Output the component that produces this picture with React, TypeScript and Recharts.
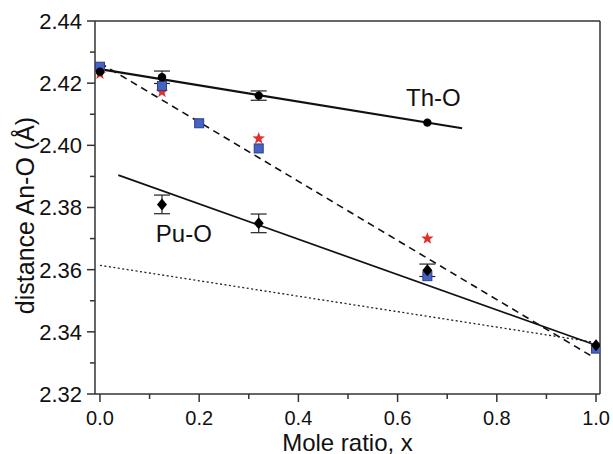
import React from 'react';
import { ComposedChart, Line, Scatter, XAxis, YAxis, ErrorBar, ReferenceLine } from 'recharts';

// ---- data ----
const xTicks = [0, 0.1, 0.2, 0.3, 0.4, 0.5, 0.6, 0.7, 0.8, 0.9, 1.0];
const yTicks = [2.32, 2.33, 2.34, 2.35, 2.36, 2.37, 2.38, 2.39, 2.4, 2.41, 2.42, 2.43, 2.44];

// black, Th-O
const thPoints = [
  { x: 0, y: 2.4237, err: 0 },
  { x: 0.125, y: 2.4219, err: 0.002 },
  { x: 0.32, y: 2.416, err: 0.0015 },
  { x: 0.66, y: 2.4073, err: 0 },
];
// black, Pu-O
const puPoints = [
  { x: 0.125, y: 2.381, err: 0.003 },
  { x: 0.32, y: 2.3749, err: 0.003 },
  { x: 0.66, y: 2.3598, err: 0.002 },
  { x: 1.0, y: 2.3357, err: 0 },
];
// blue squares
const bluePoints = [
  { x: 0, y: 2.4253 },
  { x: 0.125, y: 2.4191 },
  { x: 0.2, y: 2.4071 },
  { x: 0.32, y: 2.399 },
  { x: 0.66, y: 2.3579 },
  { x: 1.0, y: 2.3346 },
];
// red stars
const redPoints = [
  { x: 0, y: 2.423 },
  { x: 0.125, y: 2.4172 },
  { x: 0.32, y: 2.4022 },
  { x: 0.66, y: 2.370 },
  { x: 1.0, y: 2.3355 },
];
// fitted lines
const thLine = [
  { x: 0, y: 2.4245 },
  { x: 0.73, y: 2.4055 },
];
const puLine = [
  { x: 0.037, y: 2.3904 },
  { x: 1.0, y: 2.3357 },
];
const dashedLine = [
  { x: 0, y: 2.4265 },
  { x: 0.994, y: 2.3319 },
];
const dottedLine = [
  { x: 0, y: 2.3614 },
  { x: 0.994, y: 2.3367 },
];
const textLabels = [
  { x: 0.672, y: 2.4126, text: 'Th-O' },
  { x: 0.169, y: 2.3689, text: 'Pu-O' },
];

const FONT = '"Liberation Sans", Arial, sans-serif';
const AXIS = '#333';

const XTick = (props: any) => {
  const { x, y, payload } = props;
  const v = payload.value;
  const major = Math.round(v * 10) % 2 === 0;
  return (
    <g>
      <line x1={x} y1={y} x2={x} y2={y + (major ? 8 : 5)} stroke={AXIS} strokeWidth={1.5} />
      {major && (
        <text x={x} y={y + 30.5} textAnchor="middle" fontSize={20} fontFamily={FONT} fill="#111">
          {v.toFixed(1)}
        </text>
      )}
    </g>
  );
};

const YTick = (props: any) => {
  const { x, y, payload } = props;
  const v = payload.value;
  const major = Math.round(v * 100) % 2 === 0;
  return (
    <g>
      <line x1={x} y1={y} x2={x - (major ? 8 : 5)} y2={y} stroke={AXIS} strokeWidth={1.5} />
      {major && (
        <text x={x - 13} y={y} dy="0.36em" textAnchor="end" fontSize={22} fontFamily={FONT} fill="#111">
          {v.toFixed(2)}
        </text>
      )}
    </g>
  );
};

const YLabel = (props: any) => {
  const vb = props.viewBox || {};
  const cx = 25;
  const cy = (vb.y || 0) + (vb.height || 0) / 2 + 8;
  return (
    <text
      x={cx}
      y={cy}
      transform={`rotate(-90, ${cx}, ${cy})`}
      textAnchor="middle"
      dy="0.36em"
      fontSize={25}
      fontFamily={FONT}
      fill="#111"
    >
      distance An-O (Å)
    </text>
  );
};

const XLabel = (props: any) => {
  const vb = props.viewBox || {};
  const cx = (vb.x || 0) + (vb.width || 0) / 2;
  return (
    <text x={cx} y={450.5} textAnchor="middle" fontSize={24} fontFamily={FONT} fill="#111">
      Mole ratio, x
    </text>
  );
};

const Square = (p: any) => (
  <rect x={p.cx - 4.5} y={p.cy - 4.5} width={9} height={9} fill="#4563c2" stroke="#2b3e92" strokeWidth={1} />
);

const Star = (p: any) => {
  const R = 6.5, r = 2.7;
  let d = '';
  for (let i = 0; i < 10; i++) {
    const rad = i % 2 === 0 ? R : r;
    const a = -Math.PI / 2 + (i * Math.PI) / 5;
    d += (i === 0 ? 'M' : 'L') + (p.cx + rad * Math.cos(a)).toFixed(2) + ',' + (p.cy + rad * Math.sin(a)).toFixed(2);
  }
  return <path d={d + 'Z'} fill="#e0302c" />;
};

const Dot = (p: any) => <circle cx={p.cx} cy={p.cy} r={4.2} fill="#000" />;

const Diamond = (p: any) => (
  <polygon
    points={`${p.cx},${p.cy - 6} ${p.cx + 5},${p.cy} ${p.cx},${p.cy + 6} ${p.cx - 5},${p.cy}`}
    fill="#000"
  />
);

const TextShape = (p: any) => (
  <text x={p.cx} y={p.cy} textAnchor="middle" fontSize={24} fontFamily={FONT} fill="#111">
    {p.payload.text}
  </text>
);

export default function App() {
  return (
    <div style={{ position: 'absolute', left: 0, top: 0, background: '#fff' }}>
      <ComposedChart width={613} height={454} margin={{ top: 21, right: 13, bottom: 0, left: 0 }}>
        <XAxis
          type="number"
          dataKey="x"
          domain={[-0.01, 1.008]}
          ticks={xTicks}
          interval={0}
          allowDataOverflow
          tickSize={0}
          tickMargin={0}
          tickLine={false}
          tick={<XTick />}
          axisLine={{ stroke: AXIS, strokeWidth: 1.5 }}
          height={60}
          label={<XLabel />}
        />
        <YAxis
          type="number"
          dataKey="y"
          domain={[2.32, 2.44]}
          ticks={yTicks}
          interval={0}
          allowDataOverflow
          tickSize={0}
          tickMargin={0}
          tickLine={false}
          tick={<YTick />}
          axisLine={{ stroke: AXIS, strokeWidth: 1.5 }}
          width={95}
          label={<YLabel />}
        />
        <ReferenceLine y={2.44} stroke={AXIS} strokeWidth={1.5} />
        <ReferenceLine x={1.008} stroke={AXIS} strokeWidth={1.5} />

        <Line data={dottedLine} dataKey="y" type="linear" stroke="#222" strokeWidth={1.3} strokeDasharray="2 2.5" dot={false} isAnimationActive={false} />
        <Line data={dashedLine} dataKey="y" type="linear" stroke="#111" strokeWidth={1.6} strokeDasharray="7 5" dot={false} isAnimationActive={false} />
        <Line data={puLine} dataKey="y" type="linear" stroke="#111" strokeWidth={1.7} dot={false} isAnimationActive={false} />
        <Line data={thLine} dataKey="y" type="linear" stroke="#111" strokeWidth={2.2} dot={false} isAnimationActive={false} />

        <Scatter data={redPoints} dataKey="y" shape={<Star />} isAnimationActive={false} />
        <Scatter data={bluePoints} dataKey="y" shape={<Square />} isAnimationActive={false} />
        <Scatter data={thPoints} dataKey="y" shape={<Dot />} isAnimationActive={false}>
          <ErrorBar dataKey="err" direction="y" width={8} stroke="#222" strokeWidth={1.2} />
        </Scatter>
        <Scatter data={puPoints} dataKey="y" shape={<Diamond />} isAnimationActive={false}>
          <ErrorBar dataKey="err" direction="y" width={8} stroke="#222" strokeWidth={1.2} />
        </Scatter>
        <Scatter data={textLabels} dataKey="y" shape={<TextShape />} isAnimationActive={false} />
      </ComposedChart>
    </div>
  );
}
